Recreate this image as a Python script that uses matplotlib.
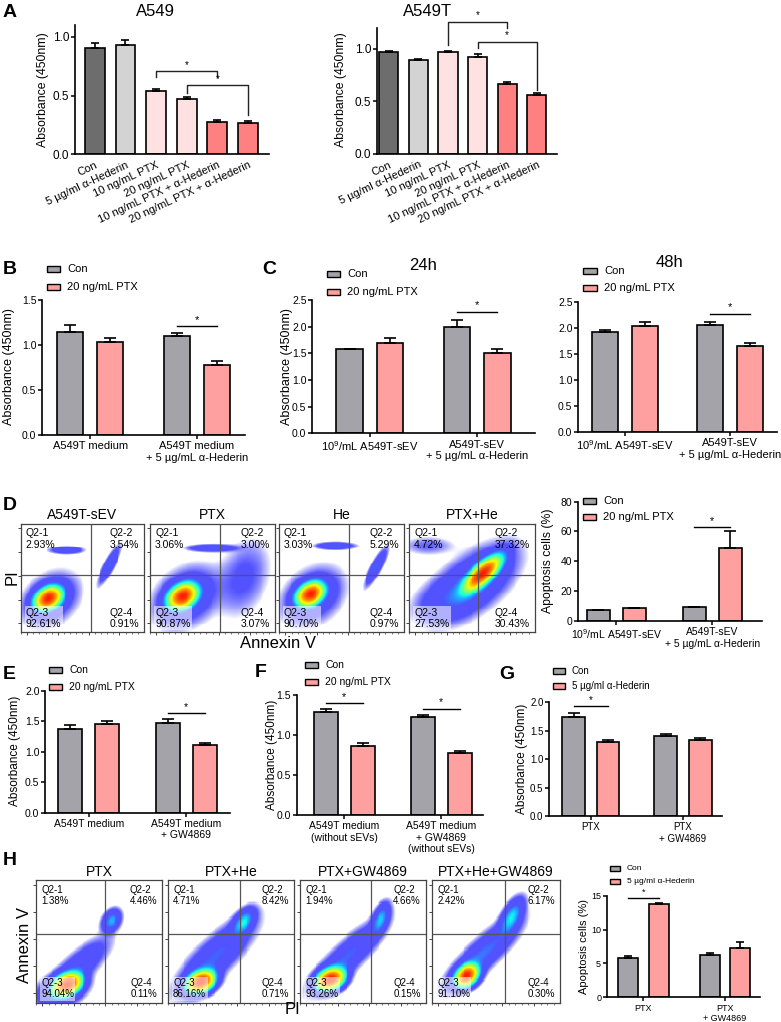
import numpy as np
import matplotlib
matplotlib.use("Agg")
import matplotlib.pyplot as plt
from matplotlib.patches import Rectangle

plt.rcParams['font.family'] = ['Liberation Sans', 'DejaVu Sans']
plt.rcParams['mathtext.fontset'] = 'custom'
plt.rcParams['mathtext.rm'] = 'Liberation Sans'
plt.rcParams['mathtext.it'] = 'Liberation Sans:italic'
plt.rcParams['mathtext.bf'] = 'Liberation Sans:bold'

# -----------------------------
# DATA
# -----------------------------
# A: CCK-8 absorbance, A549 / A549T
a_labels = ["Con", "5 µg/ml α-Hederin", "10 ng/mL PTX", "20 ng/mL PTX",
            "10 ng/mL PTX + α-Hederin", "20 ng/mL PTX + α-Hederin"]
a549_mean = [0.908, 0.926, 0.538, 0.47, 0.273, 0.27]
a549_err = [0.042, 0.044, 0.018, 0.015, 0.017, 0.01]
a549t_mean = [0.967, 0.898, 0.967, 0.926, 0.669, 0.56]
a549t_err = [0.012, 0.006, 0.01, 0.022, 0.021, 0.023]
a_colors = ["#6d6d6d", "#d3d3d3", "#ffe1e1", "#ffe1e1", "#ff8080", "#ff8080"]

# B
b_groups = ["A549T medium", "A549T medium\n+ 5 µg/mL α-Hederin"]
b_con, b_con_err = [1.144, 1.10], [0.076, 0.035]
b_ptx, b_ptx_err = [1.035, 0.778], [0.037, 0.042]

# C
c_groups = ["10$^9$/mL A549T-sEV", "A549T-sEV\n+ 5 µg/mL α-Hederin"]
c24_con, c24_con_err = [1.575, 1.99], [0.015, 0.13]
c24_ptx, c24_ptx_err = [1.70, 1.50], [0.08, 0.09]
c48_con, c48_con_err = [1.91, 2.05], [0.045, 0.06]
c48_ptx, c48_ptx_err = [2.04, 1.65], [0.08, 0.05]

# D: flow cytometry quadrant values + bar chart
d_titles = ["A549T-sEV", "PTX", "He", "PTX+He"]
d_q1 = ["2.93%", "3.06%", "3.03%", "4.72%"]
d_q2 = ["3.54%", "3.00%", "5.29%", "37.32%"]
d_q3 = ["92.61%", "90.87%", "90.70%", "27.53%"]
d_q4 = ["0.91%", "3.07%", "0.97%", "30.43%"]
d_gate_x = [0.57, 0.56, 0.56, 0.55]
d_gate_y = 0.53
# cell populations: (cx, cy, sx, sy, rho, rel. peak)
d_pops = [
    [(0.22, 0.31, 0.06, 0.06, 0.3, 1.0), (0.24, 0.30, 0.12, 0.13, 0.3, 0.05),
     (0.37, 0.76, 0.07, 0.018, 0.0, 0.06), (0.72, 0.62, 0.045, 0.09, 0.85, 0.07)],
    [(0.26, 0.33, 0.065, 0.065, 0.3, 1.0), (0.29, 0.32, 0.14, 0.15, 0.3, 0.05),
     (0.50, 0.78, 0.10, 0.018, 0.0, 0.07), (0.75, 0.50, 0.12, 0.20, 0.3, 0.02)],
    [(0.25, 0.35, 0.06, 0.06, 0.3, 1.0), (0.27, 0.33, 0.13, 0.14, 0.3, 0.05),
     (0.45, 0.80, 0.08, 0.018, 0.0, 0.07), (0.78, 0.60, 0.045, 0.09, 0.85, 0.07)],
    [(0.58, 0.54, 0.08, 0.09, 0.75, 1.0), (0.50, 0.45, 0.18, 0.18, 0.6, 0.08),
     (0.30, 0.30, 0.14, 0.11, 0.3, 0.03), (0.15, 0.80, 0.12, 0.05, 0.0, 0.015)],
]
d_con, d_con_err = [7.1, 8.9], [0.4, 0.3]
d_ptx, d_ptx_err = [8.3, 49.0], [0.3, 11.5]

# E, F, G
e_groups = ["A549T medium", "A549T medium\n+ GW4869"]
e_con, e_con_err = [1.37, 1.47], [0.06, 0.06]
e_ptx, e_ptx_err = [1.45, 1.107], [0.045, 0.04]
f_groups = ["A549T medium\n(without sEVs)", "A549T medium\n+ GW4869\n(without sEVs)"]
f_con, f_con_err = [1.29, 1.22], [0.03, 0.03]
f_ptx, f_ptx_err = [0.866, 0.78], [0.04, 0.015]
g_groups = ["PTX", "PTX\n+ GW4869"]
g_con, g_con_err = [1.75, 1.40], [0.07, 0.05]
g_he, g_he_err = [1.31, 1.345], [0.02, 0.02]

# H
h_titles = ["PTX", "PTX+He", "PTX+GW4869", "PTX+He+GW4869"]
h_q1 = ["1.38%", "4.71%", "1.94%", "2.42%"]
h_q2 = ["4.46%", "8.42%", "4.66%", "6.17%"]
h_q3 = ["94.04%", "86.16%", "93.26%", "91.10%"]
h_q4 = ["0.11%", "0.71%", "0.15%", "0.30%"]
h_gate_x = [0.55, 0.57, 0.56, 0.57]
h_gate_y = 0.56
h_pops = [
    [(0.25, 0.15, 0.06, 0.05, 0.3, 1.0), (0.33, 0.28, 0.13, 0.13, 0.8, 0.06),
     (0.60, 0.67, 0.04, 0.05, 0.3, 0.12), (0.20, 0.10, 0.10, 0.07, 0.3, 0.1)],
    [(0.26, 0.17, 0.06, 0.05, 0.3, 1.0), (0.38, 0.38, 0.16, 0.16, 0.8, 0.07),
     (0.60, 0.66, 0.05, 0.06, 0.5, 0.14)],
    [(0.24, 0.19, 0.06, 0.05, 0.3, 1.0), (0.38, 0.38, 0.15, 0.15, 0.85, 0.07),
     (0.64, 0.68, 0.04, 0.07, 0.5, 0.12)],
    [(0.27, 0.22, 0.05, 0.05, 0.3, 1.0), (0.40, 0.40, 0.15, 0.15, 0.85, 0.08),
     (0.62, 0.70, 0.05, 0.08, 0.6, 0.14)],
]
h_groups = ["PTX", "PTX\n+ GW4869"]
h_con, h_con_err = [5.75, 6.28], [0.35, 0.3]
h_he, h_he_err = [13.8, 7.32], [0.15, 0.8]

GREY = "#a3a3a9"
PINK = "#ffa0a0"

# -----------------------------
# HELPERS
# -----------------------------
W, H = 781, 1022
fig = plt.figure(figsize=(W / 100, H / 100), dpi=100)
jet = matplotlib.colormaps['jet']


def px_ax(x0, y0, x1, y1):
    return fig.add_axes([x0 / W, 1 - y1 / H, (x1 - x0) / W, (y1 - y0) / H])


def ftext(x, y, s, **kw):
    fig.text(x / W, 1 - y / H, s, **kw)


def style(ax, fs, yfs):
    ax.spines['top'].set_visible(False)
    ax.spines['right'].set_visible(False)
    ax.spines['left'].set_linewidth(1.2)
    ax.spines['bottom'].set_linewidth(1.2)
    ax.tick_params(direction='out', length=3, width=1.1, labelsize=fs, pad=1.5)
    ax.tick_params(axis='y', labelsize=yfs, pad=1)


def legend(x0, x1, ys, labels, fs, h=6, colors=(GREY, PINK)):
    for y, lab, c in zip(ys, labels, colors):
        fig.patches.append(Rectangle((x0 / W, 1 - (y + h / 2) / H), (x1 - x0) / W, h / H,
                                     transform=fig.transFigure, facecolor=c,
                                     edgecolor='black', lw=1, figure=fig))
        ftext(x1 + 7, y, lab, fontsize=fs, va='center')


def star(ax, x, y, fs):
    ax.annotate('*', xy=(x, y), xytext=(0, 1), textcoords='offset points',
                ha='center', va='bottom', fontsize=fs, annotation_clip=False)


def two_group(box, groups, con, con_err, trt, trt_err, ylim, yticks, fmt, xlim, fs, yfs,
              sig, cap=4, off=0.19, w=0.245):
    ax = px_ax(*box)
    x = np.arange(len(groups))
    z = np.zeros(len(groups))
    ax.bar(x - off, con, w, color=GREY, edgecolor='black', linewidth=1.2, zorder=2)
    ax.bar(x + off, trt, w, color=PINK, edgecolor='black', linewidth=1.2, zorder=2)
    ax.errorbar(x - off, con, yerr=[z, con_err], fmt='none', ecolor='black',
                elinewidth=1.2, capsize=cap, capthick=1.2, zorder=3)
    ax.errorbar(x + off, trt, yerr=[z, trt_err], fmt='none', ecolor='black',
                elinewidth=1.2, capsize=cap, capthick=1.2, zorder=3)
    ax.set_xlim(xlim)
    ax.set_ylim(ylim)
    ax.set_yticks(yticks)
    ax.set_yticklabels([fmt.format(t) for t in yticks])
    ax.set_xticks(x)
    ax.set_xticklabels(groups)
    style(ax, fs, yfs)
    for gi, yl in sig:
        ax.plot([gi - off, gi + off], [yl, yl], color='black', lw=1, clip_on=False)
        star(ax, gi, yl, fs)
    return ax


def panel_a(box, mean, err, xlim, ylim, brackets):
    ax = px_ax(*box)
    x = np.arange(len(mean))
    ax.bar(x, mean, 0.65, color=a_colors, edgecolor='black', linewidth=1.2, zorder=2)
    ax.errorbar(x, mean, yerr=[np.zeros(len(mean)), err], fmt='none', ecolor='black',
                elinewidth=1.2, capsize=3, capthick=1.2, zorder=3)
    ax.set_xlim(xlim)
    ax.set_ylim(ylim)
    ax.set_yticks([0, 0.5, 1.0])
    ax.set_yticklabels(["0.0", "0.5", "1.0"])
    ax.set_xticks(x)
    ax.set_xticklabels(a_labels, rotation=25, ha='right', rotation_mode='anchor')
    style(ax, 8.5, 8.5)
    ax.tick_params(axis='x', length=0, labelsize=8, pad=4)
    for i, j, top, yl, yr in brackets:
        ax.plot([i, i, j, j], [yl, top, top, yr], color='#222222', lw=1, clip_on=False)
        star(ax, (i + j) / 2, top, 7)
    return ax


def flow(box, pops, gx, gy, q, title, qfs, title_y, shade):
    ax = px_ax(*box)
    gxx, gyy = np.meshgrid(np.linspace(0, 1, 130), np.linspace(0, 1, 115))
    dens = np.zeros_like(gxx)
    for cx, cy, sx, sy, rho, pk in pops:
        u = (gxx - cx) / sx
        v = (gyy - cy) / sy
        dens += pk * np.exp(-(u * u - 2 * rho * u * v + v * v) / (2 * (1 - rho ** 2)))
    dens /= dens.max()
    ld = np.log10(dens + 1e-12)
    t = np.clip((ld + 1.25) / 1.25, 0, 1)
    rgba = jet(0.12 + 0.76 * t)
    fringe = np.clip((ld + 2.5) / 0.7, 0, 1)
    core = np.clip((ld + 1.25) / 0.45, 0, 1)
    rgba[..., 3] = fringe * (0.68 + 0.32 * core)
    ax.imshow(rgba, extent=[0, 1, 0, 1], origin='lower', aspect='auto',
              interpolation='nearest', zorder=1)
    ax.axvline(gx, color='#555555', lw=0.9, zorder=2)
    ax.axhline(gy, color='#555555', lw=0.9, zorder=2)
    ax.set_xlim(0, 1)
    ax.set_ylim(0, 1)
    for s in ax.spines.values():
        s.set_linewidth(0.9)
        s.set_color('#444444')
    ax.set_xticks(np.arange(0.05, 1.0, 0.25))
    ax.set_xticks(np.arange(0.0, 1.0, 0.05), minor=True)
    ax.set_yticks(np.arange(0.08, 1.0, 0.22))
    ax.set_xticklabels([])
    ax.set_yticklabels([])
    ax.tick_params(direction='out', length=2.5, width=0.7, color='#444444')
    ax.tick_params(which='minor', direction='out', length=1.3, width=0.5, color='#444444')
    kw = dict(fontsize=qfs, transform=ax.transAxes, zorder=4, linespacing=1.15)
    ax.text(0.04, 0.96, "Q2-1\n" + q[0], ha='left', va='top', **kw)
    ax.text(0.96, 0.96, "Q2-2\n" + q[1], ha='right', va='top', multialignment='left', **kw)
    bb = dict(facecolor='white', alpha=0.55, edgecolor='none', pad=1) if shade else None
    ax.text(0.04, 0.03, "Q2-3\n" + q[2], ha='left', va='bottom', bbox=bb, **kw)
    ax.text(0.96, 0.03, "Q2-4\n" + q[3], ha='right', va='bottom', multialignment='left', **kw)
    ftext((box[0] + box[2]) / 2, title_y, title, fontsize=10, ha='center', va='center')
    return ax


# -----------------------------
# A
# -----------------------------
panel_a((75, 25, 269, 154.3), a549_mean, a549_err, (-0.65, 5.69), (0, 1.1),
        [(2, 4, 0.706, 0.658, 0.66), (3, 5, 0.586, 0.52, 0.335)])
panel_a((377, 28, 557, 154), a549t_mean, a549t_err, (-0.4, 5.68), (0, 1.2),
        [(2, 4, 1.258, 1.034, 1.2), (3, 5, 1.067, 1.012, 0.611)])
ftext(155, 12, "A549", fontsize=12, ha='center', va='center')
ftext(428, 11, "A549T", fontsize=12, ha='center', va='center')
ftext(43, 90, "Absorbance (450nm)", fontsize=8.8, rotation=90, ha='center', va='center')
ftext(341, 90, "Absorbance (450nm)", fontsize=8.8, rotation=90, ha='center', va='center')

# -----------------------------
# B, C
# -----------------------------
two_group((42, 300, 245, 434.7), b_groups, b_con, b_con_err, b_ptx, b_ptx_err,
          (0, 1.5), [0, 0.5, 1.0, 1.5], "{:.1f}", (-0.45, 1.45), 8, 7.5, [(1, 1.21)])
legend(47, 60, [269, 287], ["Con", "20 ng/mL PTX"], 8)
ftext(9, 367, "Absorbance (450nm)", fontsize=9, rotation=90, ha='center', va='center')

two_group((312, 300, 535, 433.3), c_groups, c24_con, c24_con_err, c24_ptx, c24_ptx_err,
          (0, 2.5), [0, 0.5, 1.0, 1.5, 2.0, 2.5], "{:.1f}", (-0.54, 1.54), 8, 7.5, [(1, 2.28)])
legend(327, 340, [274, 292], ["Con", "20 ng/mL PTX"], 8)
ftext(287, 367, "Absorbance (450nm)", fontsize=9, rotation=90, ha='center', va='center')
ftext(423, 265, "24h", fontsize=12, ha='center', va='center')

two_group((578, 301.7, 777, 432), c_groups, c48_con, c48_con_err, c48_ptx, c48_ptx_err,
          (0, 2.5), [0, 0.5, 1.0, 1.5, 2.0, 2.5], "{:.1f}", (-0.45, 1.45), 8, 7.5, [(1, 2.27)])
legend(583, 597, [270.7, 288.3], ["Con", "20 ng/mL PTX"], 8)
ftext(670, 262, "48h", fontsize=12, ha='center', va='center')

# -----------------------------
# D
# -----------------------------
d_boxes = [(21, 524, 144, 632), (150, 524, 275, 632), (279, 524, 404, 632), (409, 524, 535, 632)]
for k in range(4):
    flow(d_boxes[k], d_pops[k], d_gate_x[k], d_gate_y,
         [d_q1[k], d_q2[k], d_q3[k], d_q4[k]], d_titles[k], 7.5, 515, True)
ftext(12, 577, "PI", fontsize=12, rotation=90, ha='center', va='center')
ftext(278, 643, "Annexin V", fontsize=12, ha='center', va='center')

two_group((578, 501.7, 762, 620.7), c_groups, d_con, d_con_err, d_ptx, d_ptx_err,
          (0, 80), [0, 20, 40, 60, 80], "{:.0f}", (-0.4, 1.52), 7.5, 7.5, [(1, 63)],
          off=0.1875, w=0.24)
legend(583, 596, [501, 517], ["Con", "20 ng/mL PTX"], 8)
ftext(548, 561, "Apoptosis cells (%)", fontsize=8.8, rotation=90, ha='center', va='center')

# -----------------------------
# E, F, G
# -----------------------------
two_group((45, 690.7, 230, 812.5), e_groups, e_con, e_con_err, e_ptx, e_ptx_err,
          (0, 2.0), [0, 0.5, 1.0, 1.5, 2.0], "{:.1f}", (-0.45, 1.45), 7.5, 7.5, [(1, 1.63)])
legend(49, 62, [670, 686.7], ["Con", "20 ng/mL PTX"], 7.5)
ftext(15, 751, "Absorbance (450nm)", fontsize=8.5, rotation=90, ha='center', va='center')

two_group((296.7, 695, 483, 815), f_groups, f_con, f_con_err, f_ptx, f_ptx_err,
          (0, 1.5), [0, 0.5, 1.0, 1.5], "{:.1f}", (-0.49, 1.43), 7.5, 7.5,
          [(0, 1.40), (1, 1.33)])
legend(305, 318, [665, 681.7], ["Con", "20 ng/mL PTX"], 7.5)
ftext(272, 755, "Absorbance (450nm)", fontsize=8.5, rotation=90, ha='center', va='center')

two_group((549, 702.3, 721.7, 816), g_groups, g_con, g_con_err, g_he, g_he_err,
          (0, 2.0), [0, 0.5, 1.0, 1.5, 2.0], "{:.1f}", (-0.453, 1.42), 7, 7, [(0, 1.935)],
          off=0.187)
legend(553, 565, [670.7, 685.7], ["Con", "5 µg/ml α-Hederin"], 7)
ftext(522, 759, "Absorbance (450nm)", fontsize=8.5, rotation=90, ha='center', va='center')

# -----------------------------
# H
# -----------------------------
h_boxes = [(36, 880, 162, 1003), (168, 880, 294, 1003), (300, 880, 426, 1003), (432, 880, 560, 1003)]
for k in range(4):
    flow(h_boxes[k], h_pops[k], h_gate_x[k], h_gate_y,
         [h_q1[k], h_q2[k], h_q3[k], h_q4[k]], h_titles[k], 7, 872, True)
ftext(25, 945, "Annexin V", fontsize=12, rotation=90, ha='center', va='center')
ftext(293, 1009, "PI", fontsize=12, ha='center', va='center')

two_group((606.7, 895.7, 760, 997.3), h_groups, h_con, h_con_err, h_he, h_he_err,
          (0, 15), [0, 5, 10, 15], "{:.0f}", (-0.45, 1.43), 6.5, 6.5, [(0, 14.7)],
          cap=3, off=0.186)
legend(610, 620, [868.3, 881], ["Con", "5 µg/ml α-Hederin"], 6, h=5)
ftext(584, 946, "Apoptosis cells (%)", fontsize=8, rotation=90, ha='center', va='center')

# -----------------------------
# panel letters
# -----------------------------
for lab, x, y in [("A", 3, 4), ("B", 3, 261), ("C", 262, 261), ("D", 3, 497),
                  ("E", 3, 666), ("F", 255, 664), ("G", 499, 666), ("H", 3, 852)]:
    ftext(x, y, lab, fontsize=14, fontweight='bold', va='top', ha='left')

fig.savefig("out.png", dpi=100)
